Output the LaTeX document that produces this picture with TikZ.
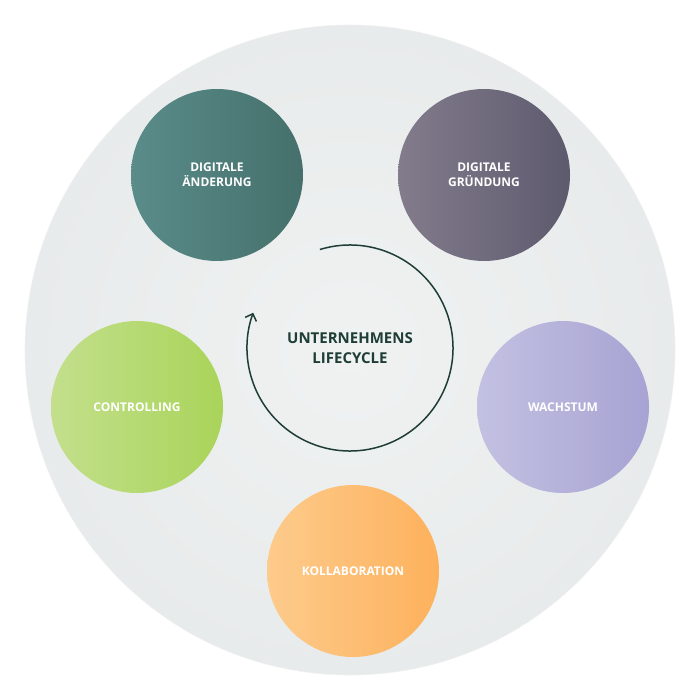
\documentclass[tikz,border=0pt]{standalone}
\usepackage{fontspec}
\setmainfont{Open Sans}
\usetikzlibrary{arrows.meta}
\definecolor{ringgray}{HTML}{F0F2F2}
\definecolor{ringgrayB}{HTML}{E8EBEB}
\definecolor{cycgreen}{HTML}{1E3D35}
\definecolor{tealA}{HTML}{5A8C8A}\definecolor{tealB}{HTML}{45706B}
\definecolor{plumA}{HTML}{827C8C}\definecolor{plumB}{HTML}{5E5A6E}
\definecolor{limeA}{HTML}{C3DF8C}\definecolor{limeB}{HTML}{A9D45A}
\definecolor{lavA}{HTML}{C3C1E2}\definecolor{lavB}{HTML}{A7A3D3}
\definecolor{orA}{HTML}{FDCB8C}\definecolor{orB}{HTML}{FDB15C}
\tikzset{
  phase/.style={circle,minimum size=172pt,inner sep=0pt,text=white,align=center,
    font=\fontsize{12}{15}\selectfont\bfseries},
}
\begin{document}
\begin{tikzpicture}[x=1pt,y=-1pt]
\useasboundingbox (0,0) rectangle (700,700);
\shade[inner color=ringgray,outer color=ringgrayB] (350,350) circle (325);
\draw[white!88!gray,line width=0.6pt] (350,350) circle (325);
\shade[left color=tealA,right color=tealB] (217,175) circle (86);
\shade[left color=plumA,right color=plumB] (484,175) circle (86);
\shade[left color=limeA,right color=limeB] (137,407) circle (86);
\shade[left color=lavA,right color=lavB] (563,407) circle (86);
\shade[left color=orA,right color=orB] (353,571) circle (86);
\node[phase] (aend) at (217,175) {DIGITALE\\ÄNDERUNG};
\node[phase] (gruend) at (484,175) {DIGITALE\\GRÜNDUNG};
\node[phase] (contr) at (137,407) {CONTROLLING};
\node[phase] (wachs) at (563,407) {WACHSTUM};
\node[phase] (kollab) at (353,571) {KOLLABORATION};
\node[text=cycgreen,align=center,font=\fontsize{15}{20}\selectfont\bfseries] (life) at (350,348) {UNTERNEHMENS\\LIFECYCLE};
\draw[cycgreen,line width=1.5pt,-{Straight Barb[length=6pt,width=12pt]}]
  (life.center) ++(-107:103) arc[start angle=-107,end angle=200,radius=103];
\end{tikzpicture}
\end{document}
